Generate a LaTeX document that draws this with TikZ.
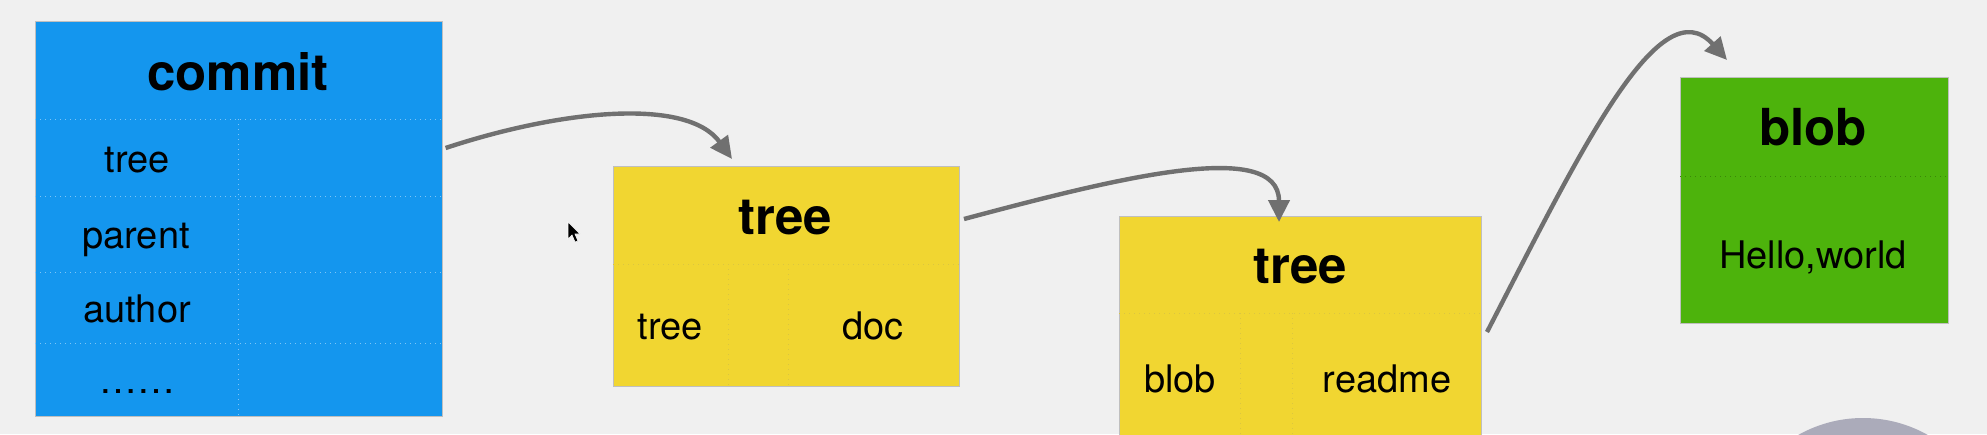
\documentclass[tikz,border=0pt]{standalone}
\usepackage{fontspec}
\setmainfont{TeX Gyre Heros}
\usetikzlibrary{arrows.meta}
\definecolor{commitblue}{RGB}{20,150,238}
\definecolor{treeyellow}{RGB}{241,214,49}
\definecolor{blobgreen}{RGB}{77,179,12}
\definecolor{backgray}{RGB}{240,240,240}
\definecolor{linkgray}{RGB}{112,112,112}
\definecolor{circlegray}{RGB}{171,171,186}
\tikzset{
    box/.style={draw=black!25, line width=0.5pt, anchor=north west, inner sep=0pt},
    head/.style={anchor=base, inner sep=0pt, font=\fontsize{25.5}{30}\selectfont\bfseries},
    lbl/.style={anchor=base, inner sep=0pt, font=\fontsize{19}{23}\selectfont},
    divider/.style={draw=#1, dotted, line width=0.5pt},
    link/.style={draw=linkgray, line width=2.2pt, -{Triangle[length=11pt,width=10.5pt]}},
  }

\begin{document}
\begin{tikzpicture}[x=0.5pt,y=-0.5pt]
				  %fond
				  \clip (0,0) rectangle (1987,434);
				  \fill[backgray] (0,0) rectangle (1987,434);
				  \fill[circlegray] (1863,550) circle (66pt);
				  
				  %objets
				  \node[box, fill=commitblue, minimum width=203.3pt, minimum height=197.7pt] (commit) at (35,21) {};
				  \node[box, fill=treeyellow, minimum width=173pt, minimum height=110pt] (tree1) at (613,166) {};
				  \node[box, fill=treeyellow, minimum width=181pt, minimum height=115pt] (tree2) at (1119,216) {};
				  \node[box, fill=blobgreen, minimum width=134pt, minimum height=123pt] (blob) at (1680,77) {};
				  
				  %cases
				  \draw[divider=commitblue!55!white] (35,119) -- (441,119) (35,196) -- (441,196) (35,272) -- (441,272) (35,343) -- (441,343) (238,119) -- (238,416);
				  \draw[divider=treeyellow!80!gray] (613,264) -- (959,264) (728,264) -- (728,386) (788,264) -- (788,386);
				  \draw[divider=treeyellow!80!gray] (1119,313) -- (1481,313) (1240,313) -- (1240,434) (1292,313) -- (1292,434);
				  \draw[divider=blobgreen!75!black] (1680,176) -- (1948,176);
				  
				  \node[head] (commitT) at (238,90) {commit};
				  \node[lbl] (cTree) at (137,172) {tree};
				  \node[lbl] (cParent) at (136,248) {parent};
				  \node[lbl] (cAuthor) at (137,322) {author};
				  \node[lbl] (cDots) at (137,393) {……};
				  
				  \node[head] (tree1T) at (785,234) {tree};
				  \node[lbl] (t1Tree) at (670,339) {tree};
				  \node[lbl] (t1Doc) at (873,339) {doc};
				  
				  \node[head] (tree2T) at (1300,283) {tree};
				  \node[lbl] (t2Blob) at (1180,392) {blob};
				  \node[lbl] (t2Readme) at (1387,392) {readme};
				  
				  \node[head] (blobT) at (1813,145) {blob};
				  \node[lbl] (bHello) at (1813,268) {Hello,world};
				  
				  %liens
				  \draw[link] ([shift={(3,127)}]commit.north east) .. controls +(115,-38) and +(-45,-62) .. ([shift={(119,-7)}]tree1.north west);
				  \draw[link] ([shift={(4,53)}]tree1.north east) .. controls +(150,-40) and +(0,-85) .. ([shift={(160,6)}]tree2.north west);
				  \draw[link] ([shift={(5,116)}]tree2.north east) .. controls +(94,-182) and +(-67,-75) .. ([shift={(47,-17)}]blob.north west);
				  
				  %curseur
				  \filldraw[fill=black, draw=white, line width=0.3pt, shift={(568,222)}] (0,0) -- (0,17) -- (4,13) -- (7,20) -- (10,19) -- (7,12) -- (12,12) -- cycle;
				  \end{tikzpicture}
\end{document}
